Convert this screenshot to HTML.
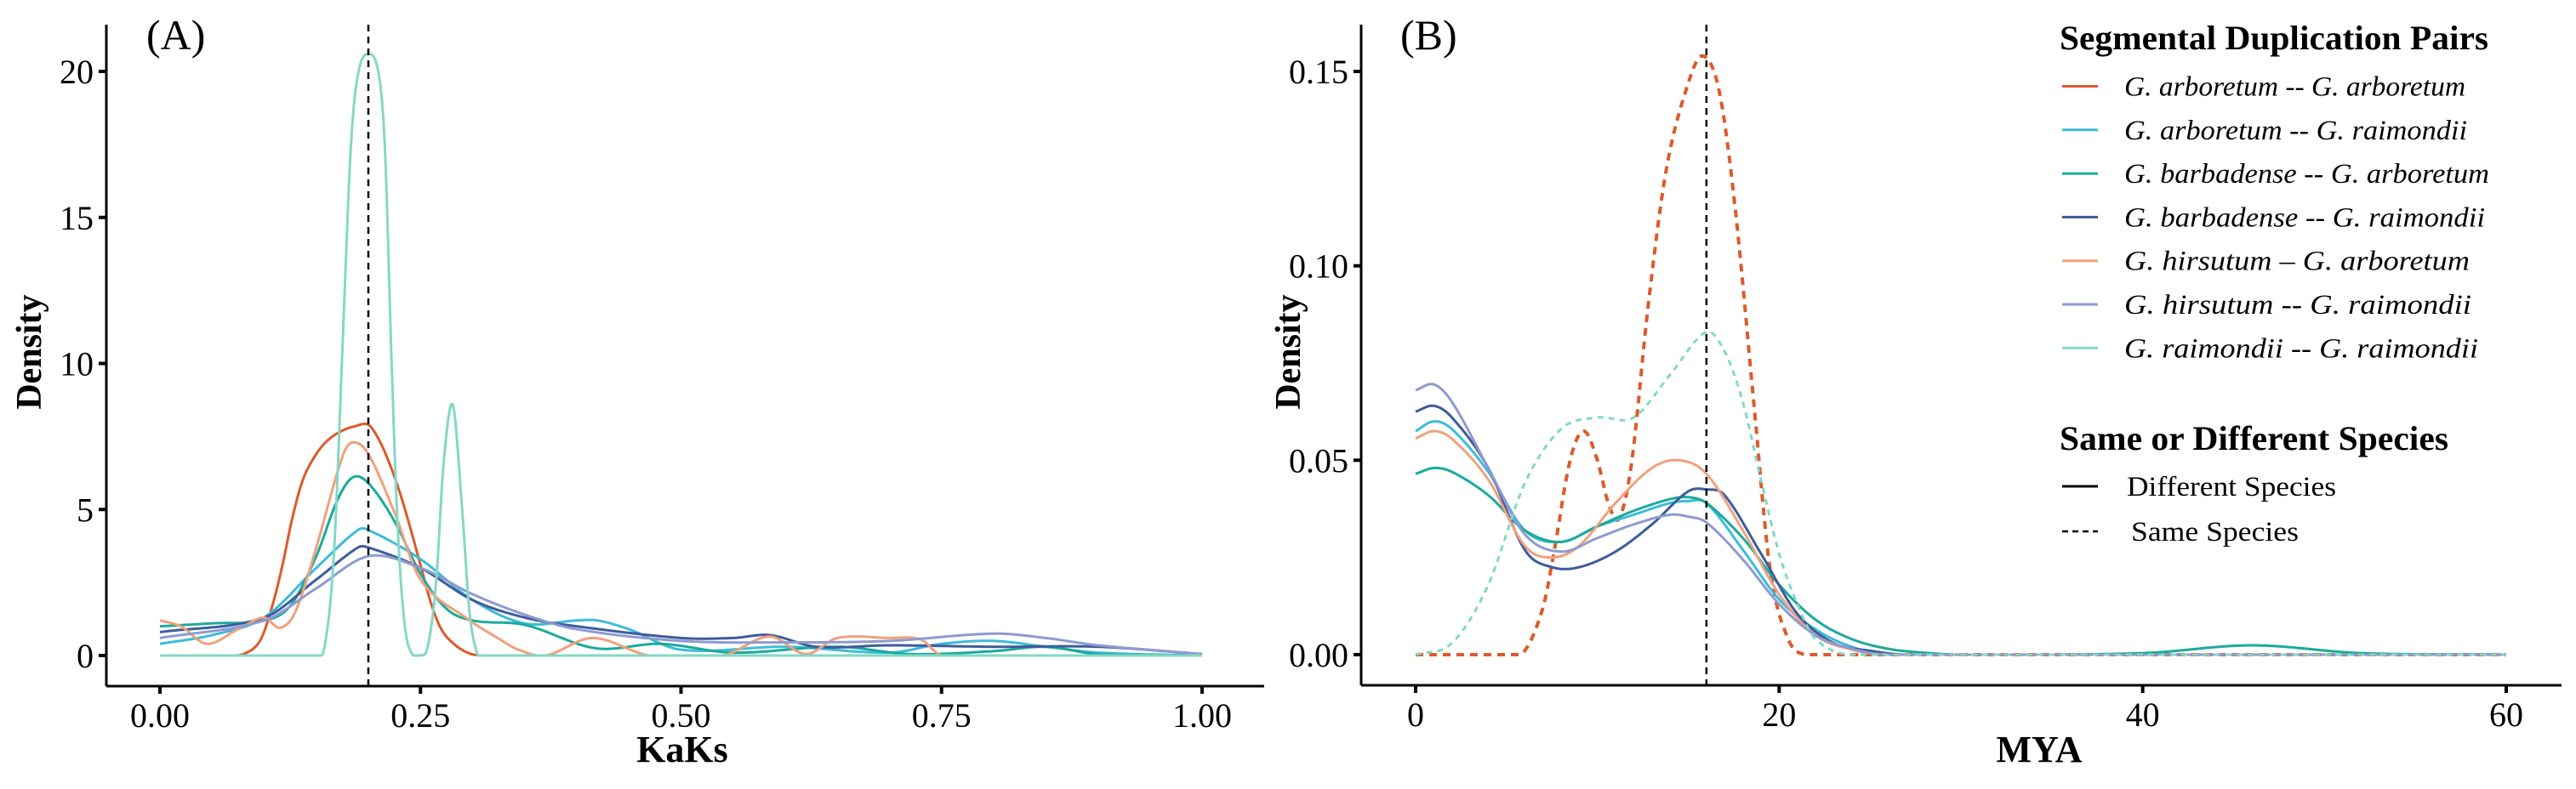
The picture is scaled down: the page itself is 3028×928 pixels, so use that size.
<!DOCTYPE html>
<html><head><meta charset="utf-8"><style>
html,body{margin:0;padding:0;background:#fff;}
svg{display:block;font-family:"Liberation Serif",serif;}
</style></head><body>
<svg id="chart" width="3028" height="928" viewBox="0 0 3028 928" xmlns="http://www.w3.org/2000/svg">
<g id="panelA"></g>
<g id="panelB"></g>
<g id="legend"></g>
</svg>
<script>
// ---------- data ----------
const seriesNames = ["G. arboretum -- G. arboretum","G. arboretum -- G. raimondii","G. barbadense -- G. arboretum","G. barbadense -- G. raimondii","G. hirsutum -- G. arboretum","G. hirsutum -- G. raimondii","G. raimondii -- G. raimondii"];
const legendLabels = ["G. arboretum --  G. arboretum","G. arboretum --  G. raimondii","G. barbadense --  G. arboretum","G. barbadense -- G. raimondii","G. hirsutum  \u2013  G. arboretum","G. hirsutum  --  G. raimondii","G. raimondii  --  G. raimondii"];
const seriesColors = ["#DD5A2B","#3DBCD8","#1BAA9C","#3E5C9C","#F0A07E","#8E9BD0","#83D8C6"];
const sameSpecies = [true,false,false,false,false,false,true];

// Panel A (KaKs)
const aTicksX = [0,0.25,0.5,0.75,1.0];
const aTickLabelsX = ["0.00","0.25","0.50","0.75","1.00"];
const aTicksY = [0,5,10,15,20];
const aTickLabelsY = ["0","5","10","15","20"];
const aVline = 0.2;
const aX0 = [0,0.04,0.063,0.08,0.096,0.107,0.117,0.127,0.137,0.15,0.162,0.175,0.187,0.2,0.21,0.22,0.23,0.24,0.25,0.26,0.27,0.282,0.295,0.307,0.33,0.4,0.6,0.8,1.0];
const aY0 = [0,0,0,0.05,0.5,1.6,3.0,4.7,6.0,6.9,7.4,7.7,7.85,7.9,7.4,6.6,5.6,4.4,3.1,1.8,0.9,0.4,0.1,0,0,0,0,0,0];
const aX1 = [0,0.05,0.1,0.15,0.19,0.2,0.25,0.3,0.35,0.4,0.42,0.45,0.5,0.6,0.7,0.75,0.8,0.85,0.9,1.0];
const aY1 = [0.4,0.7,1.3,3.0,4.3,4.3,3.3,1.9,1.1,1.2,1.2,0.9,0.2,0.3,0.1,0.4,0.5,0.3,0.1,0];
const aX2 = [0,0.05,0.1,0.125,0.15,0.17,0.185,0.2,0.225,0.25,0.275,0.3,0.35,0.418,0.48,0.55,0.65,0.72,0.8,0.85,0.9,1.0];
const aY2 = [1.0,1.1,1.2,1.7,3.4,5.3,6.1,5.9,4.6,2.8,1.6,1.2,1.05,0.25,0.4,0.1,0.3,0.05,0.15,0.3,0.05,0];
const aX3 = [0,0.1,0.15,0.19,0.2,0.25,0.3,0.35,0.4,0.5,0.55,0.585,0.63,0.7,0.8,0.9,1.0];
const aY3 = [0.8,1.3,2.6,3.7,3.7,3.0,1.9,1.3,1.0,0.6,0.6,0.7,0.3,0.35,0.3,0.3,0.05];
const aX4 = [0,0.02,0.045,0.075,0.1,0.115,0.13,0.15,0.175,0.185,0.2,0.225,0.25,0.295,0.324,0.344,0.37,0.415,0.47,0.54,0.585,0.62,0.65,0.7,0.73,0.75,0.8,1.0];
const aY4 = [1.2,1.0,0.4,0.9,1.3,0.95,1.5,3.7,6.8,7.3,6.9,4.9,2.6,1.26,0.6,0.2,0,0.6,0,0,0.65,0.05,0.6,0.6,0.55,0,0,0];
const aX5 = [0,0.1,0.15,0.2,0.25,0.3,0.35,0.4,0.5,0.6,0.7,0.8,0.85,0.9,1.0];
const aY5 = [0.6,1.2,2.3,3.4,3.0,2.1,1.4,0.9,0.5,0.45,0.5,0.75,0.6,0.35,0.05];
const aX6 = [0,0.15,0.158,0.167,0.175,0.183,0.19,0.2,0.21,0.216,0.222,0.228,0.235,0.243,0.25,0.257,0.265,0.272,0.281,0.29,0.297,0.305,0.31,0.4,1.0];
const aY6 = [0,0,0.3,3.5,10.4,17.3,19.9,20.6,19.9,17.3,10.4,4.5,1.0,0,0,0.3,2.5,6.5,8.6,5.0,1.5,0,0,0,0];

// Panel B (MYA)
const bTicksX = [0,20,40,60];
const bTickLabelsX = ["0","20","40","60"];
const bTicksY = [0,0.05,0.10,0.15];
const bTickLabelsY = ["0.00","0.05","0.10","0.15"];
const bVline = 16;
const bX0 = [0,3,5,6,7,7.6,8.5,9.26,10,10.6,11.2,11.9,12.8,13.8,15,15.8,16.7,17.6,18.6,19.5,20.5,21.4,23,60];
const bY0 = [0,0,0,0.001,0.012,0.026,0.05,0.0575,0.05,0.039,0.035,0.05,0.09,0.125,0.147,0.154,0.145,0.114,0.065,0.022,0.004,0,0,0];
const bX1 = [0,1,2,4,6,8,10,12,14,15,16,18,20,22,24,26,60];
const bY1 = [0.0575,0.06,0.058,0.047,0.032,0.029,0.033,0.036,0.039,0.0395,0.039,0.027,0.0142,0.0065,0.002,0,0];
const bX2 = [0,1,2,4,6,8,10,12,14,15,16,18,20,22,24,26,28,30,40,46,52,60];
const bY2 = [0.0465,0.048,0.047,0.041,0.032,0.029,0.033,0.037,0.04,0.0405,0.039,0.03,0.018,0.009,0.004,0.0015,0.0005,0,0.0004,0.0024,0.0004,0];
const bX3 = [0,1,2,4,6,7.5,9,11,13,15,16,17,19,21,23,25,27,60];
const bY3 = [0.0625,0.064,0.061,0.048,0.027,0.0225,0.0225,0.0265,0.0335,0.042,0.0425,0.041,0.026,0.0105,0.003,0.001,0,0];
const bX4 = [0,1,2,4,6,7.5,9,11,13,14.5,16,18,20,22,24,26,60];
const bY4 = [0.0556,0.0575,0.0555,0.045,0.028,0.025,0.028,0.039,0.048,0.05,0.0465,0.032,0.0155,0.005,0.0013,0,0];
const bX5 = [0,1,2,4,6,8,10,12,14,15,16,18,20,22,24,26,60];
const bY5 = [0.068,0.0695,0.065,0.048,0.031,0.0265,0.03,0.0335,0.036,0.0355,0.034,0.0245,0.013,0.005,0.0015,0,0];
const bX6 = [0,2,4,6,8,10,12,14,16,17,18,19,20,21,22,24,60];
const bY6 = [0,0.003,0.018,0.044,0.058,0.061,0.061,0.072,0.083,0.078,0.065,0.045,0.026,0.013,0.004,0,0];

const aXs=[aX0,aX1,aX2,aX3,aX4,aX5,aX6], aYs=[aY0,aY1,aY2,aY3,aY4,aY5,aY6];
const bXs=[bX0,bX1,bX2,bX3,bX4,bX5,bX6], bYs=[bY0,bY1,bY2,bY3,bY4,bY5,bY6];

// ---------- helpers ----------
const NS="http://www.w3.org/2000/svg";
function mk(tag,parent,attrs,text){const e=document.createElementNS(NS,tag);for(const k in attrs)e.setAttribute(k,attrs[k]);if(text!==undefined)e.textContent=text;parent.appendChild(e);return e;}
function smoothPath(px,py,base){
  const n=px.length; const pts=[];
  for(let i=0;i<n-1;i++){
    const x0=px[i],x1=px[i+1],y0=py[i],y1=py[i+1];
    const m0 = i>0 ? (py[i+1]-py[i-1])/(px[i+1]-px[i-1]) : (y1-y0)/(x1-x0);
    const m1 = i<n-2 ? (py[i+2]-py[i])/(px[i+2]-px[i]) : (y1-y0)/(x1-x0);
    const h=x1-x0, steps=Math.max(4,Math.ceil(h/2));
    for(let s=0;s<steps;s++){
      const t=s/steps,t2=t*t,t3=t2*t;
      let y=(2*t3-3*t2+1)*y0+(t3-2*t2+t)*h*m0+(-2*t3+3*t2)*y1+(t3-t2)*h*m1;
      if(y>base)y=base;
      pts.push([x0+t*h,y]);
    }
  }
  pts.push([px[n-1],Math.min(py[n-1],base)]);
  return "M"+pts.map(p=>p[0].toFixed(1)+","+p[1].toFixed(1)).join(" L");
}
function panel(g,cfg){
  const sx=v=>cfg.x0+(v-cfg.xmin)/(cfg.xmax-cfg.xmin)*(cfg.x1-cfg.x0);
  const sy=v=>cfg.y0-(v-cfg.ymin)/(cfg.ymax-cfg.ymin)*(cfg.y0-cfg.y1);
  const ax=mk("line",g,{x1:cfg.axL,y1:cfg.axB,x2:cfg.axR,y2:cfg.axB,stroke:"#000","stroke-width":3});
  
  const ay=mk("line",g,{x1:cfg.axL,y1:cfg.axT,x2:cfg.axL,y2:cfg.axB,stroke:"#000","stroke-width":3});
  
  cfg.tx.forEach((v,i)=>{const x=sx(v);
    const t=mk("line",g,{x1:x,y1:cfg.axB,x2:x,y2:cfg.axB+9,stroke:"#000","stroke-width":4});
    
    const l=mk("text",g,{x:x,y:cfg.axB+48,"text-anchor":"middle","font-size":40,fill:"#000"},cfg.txl[i]);
    });
  cfg.ty.forEach((v,i)=>{const y=sy(v);
    const t=mk("line",g,{x1:cfg.axL-9,y1:y,x2:cfg.axL,y2:y,stroke:"#000","stroke-width":4});
    
    const l=mk("text",g,{x:cfg.axL-15,y:y+14,"text-anchor":"end","font-size":40,fill:"#000"},cfg.tyl[i]);
    });
  const xt=mk("text",g,{x:cfg.xtitleX,y:896,"text-anchor":"middle","font-size":44,"font-weight":"bold",fill:"#000"},cfg.xtitle);
  
  const yt=mk("text",g,{x:0,y:0,transform:"translate("+(cfg.ytitleX)+",414) rotate(-90)","text-anchor":"middle","font-size":42,"font-weight":"bold",fill:"#000"},"Density");
  
  const tag=mk("text",g,{x:cfg.tagX,y:58,"font-size":50,fill:"#000"},cfg.tag);
  
  const base=sy(0);
  cfg.xs.forEach((xa,k)=>{
    const px=xa.map(sx), py=cfg.ys[k].map(sy);
    const dashed=cfg.dash && sameSpecies[k];
    const p=mk("path",g,{d:smoothPath(px,py,base),fill:"none",stroke:seriesColors[k],"stroke-width":dashed&&k===0?4:3,"stroke-linejoin":"round"});
    if(dashed)p.setAttribute("stroke-dasharray",k===0?"9 7":"7 6");
    
    
  });
  const vx=sx(cfg.vline);
  const vl=mk("line",g,{x1:vx,y1:cfg.axT,x2:vx,y2:cfg.axB,stroke:"#000","stroke-width":2.5,"stroke-dasharray":"8 6"});
  
}
panel(document.getElementById("panelA"),{x0:188,x1:1413,xmin:0,xmax:1,y0:771,y1:84,ymin:0,ymax:20,
  axL:125,axR:1486,axT:29,axB:807,tx:aTicksX,txl:aTickLabelsX,ty:aTicksY,tyl:aTickLabelsY,
  xtitle:"KaKs",xtitleX:802,ytitleX:48,tag:"(A)",tagX:172,xs:aXs,ys:aYs,vline:aVline,dash:false});
panel(document.getElementById("panelB"),{x0:1664,x1:2946,xmin:0,xmax:60,y0:770,y1:84,ymin:0,ymax:0.15,
  axL:1600,axR:3011,axT:29,axB:806,tx:bTicksX,txl:bTickLabelsX,ty:bTicksY,tyl:bTickLabelsY,
  xtitle:"MYA",xtitleX:2397,ytitleX:1528,tag:"(B)",tagX:1646,xs:bXs,ys:bYs,vline:bVline,dash:true});

// legend
const lg=document.getElementById("legend");
const t1=mk("text",lg,{x:2421,y:58,"font-size":40,"font-weight":"bold",textLength:504,lengthAdjust:"spacingAndGlyphs"},"Segmental Duplication Pairs");

const entryW=[401,403,429,424,406,408,416];
legendLabels.forEach((lab,i)=>{
  const y=101.5+i*51.3;
  const g=mk("g",lg,{});
  
  mk("line",g,{x1:2424,y1:y,x2:2466,y2:y,stroke:seriesColors[i],"stroke-width":3});
  mk("text",g,{x:2497,y:y+11,"font-size":33,"font-style":"italic",textLength:entryW[i],lengthAdjust:"spacingAndGlyphs"},lab);
});
const t2=mk("text",lg,{x:2421,y:529,"font-size":40,"font-weight":"bold",textLength:457,lengthAdjust:"spacingAndGlyphs"},"Same or Different Species");

const g1=mk("g",lg,{});

mk("line",g1,{x1:2424,y1:572,x2:2466,y2:572,stroke:"#000","stroke-width":3});
mk("text",g1,{x:2500,y:583,"font-size":33,textLength:246,lengthAdjust:"spacingAndGlyphs"},"Different Species");
const g2=mk("g",lg,{});

mk("line",g2,{x1:2424,y1:625,x2:2466,y2:625,stroke:"#000","stroke-width":2.5,"stroke-dasharray":"7 5"});
mk("text",g2,{x:2505,y:636,"font-size":33,textLength:197,lengthAdjust:"spacingAndGlyphs"},"Same Species");
</script>
</body></html>
